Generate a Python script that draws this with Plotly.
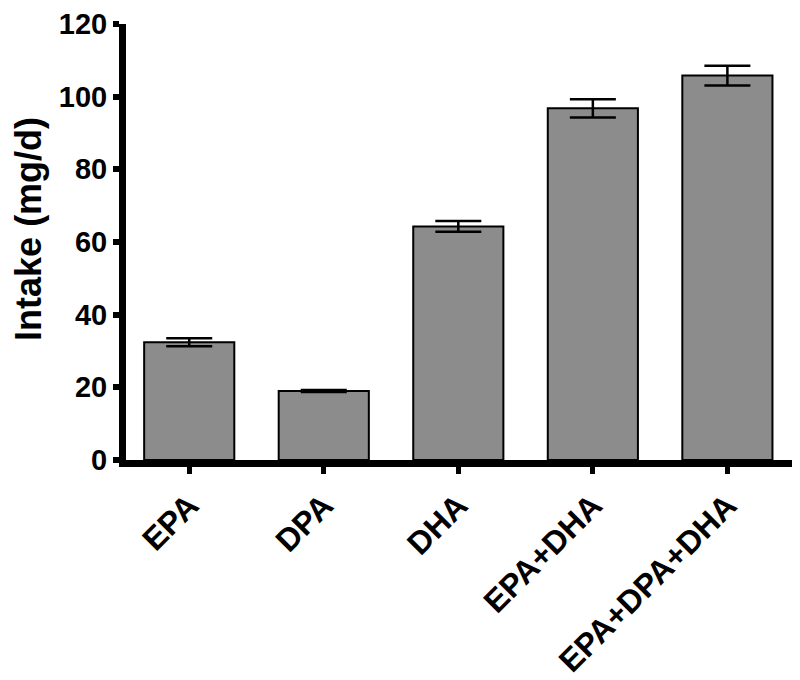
import plotly.graph_objects as go

categories = ["EPA", "DPA", "DHA", "EPA+DHA", "EPA+DPA+DHA"]
intake = [32.4, 19.0, 64.3, 96.8, 105.8]
sem = [1.1, 0.3, 1.5, 2.5, 2.7]
y_ticks = [0, 20, 40, 60, 80, 100, 120]

fig = go.Figure()
fig.add_trace(go.Bar(
    x=list(range(len(categories))),
    y=intake,
    width=0.67,
    marker=dict(color="#8c8c8c", line=dict(color="#000000", width=2)),
    error_y=dict(type="data", array=sem, visible=True, color="#000000", thickness=2.5, width=23),
))

font_family = "Liberation Sans, Arial, sans-serif"
fig.update_layout(
    width=792, height=672,
    margin=dict(l=118, r=4, t=16, b=220, pad=0, autoexpand=False),
    paper_bgcolor="white", plot_bgcolor="white",
    showlegend=False,
    xaxis=dict(
        range=[-0.47, 4.51], automargin=False,
        tickmode="array", tickvals=list(range(len(categories))), ticktext=categories,
        tickangle=-45,
        tickfont=dict(family=font_family, size=32, color="black", weight="bold"),
        showline=True, linecolor="black", linewidth=7,
        ticks="outside", ticklen=7, tickwidth=5, tickcolor="black",
        showgrid=False, zeroline=False,
        ticklabeloverflow="allow",
    ),
    yaxis=dict(
        range=[0, 120], automargin=False,
        tickmode="array", tickvals=y_ticks, ticktext=[str(v) for v in y_ticks],
        tickfont=dict(family=font_family, size=29, color="black", weight="bold"),
        showline=True, linecolor="black", linewidth=7,
        ticks="outside", ticklen=6, tickwidth=6, tickcolor="black",
        showgrid=False, zeroline=False,
        ticklabeloverflow="allow",
    ),
    annotations=[dict(
        text="Intake (mg/d)", textangle=-90,
        xref="paper", yref="paper", x=0, y=0.53, xanchor="center", yanchor="middle",
        xshift=-97, showarrow=False,
        font=dict(family=font_family, size=36, color="black", weight="bold"),
    )],
)

fig.write_html("out.html")
